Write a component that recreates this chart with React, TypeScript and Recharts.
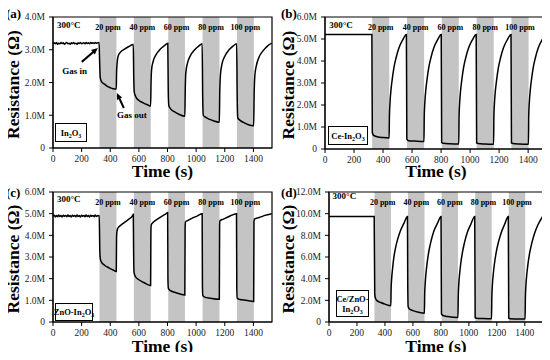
import React from "react";
import { ComposedChart, Line, XAxis, YAxis, ReferenceArea, ReferenceDot, ReferenceLine } from "recharts";

const SERIF = '"Liberation Serif", "Times New Roman", serif';

const timeTicks = [0, 200, 400, 600, 800, 1000, 1200, 1400];
const bandStarts = [325, 565, 805, 1045, 1285];
const bandEnds = [443, 683, 922, 1163, 1403];
const concentrations = ["20 ppm", "40 ppm", "60 ppm", "80 ppm", "100 ppm"];

const in2o3Ticks = [0, 1, 2, 3, 4];
const ceTicks = [0, 1, 2, 3, 4, 5, 6];
const znoTicks = [0, 1, 2, 3, 4, 5, 6];
const ceZnoTicks = [0, 2, 4, 6, 8, 10, 12];

// resistance in MΩ vs time in s
const in2o3Curve: [number, number][] = [
  [0, 3.17], [8, 3.21], [16, 3.18], [24, 3.22], [32, 3.17], [40, 3.2], [48, 3.18], [56, 3.22], [64, 3.19],
  [72, 3.21], [80, 3.17], [88, 3.2], [96, 3.22], [104, 3.18], [112, 3.2], [120, 3.17], [128, 3.21],
  [136, 3.19], [144, 3.22], [152, 3.18], [160, 3.2], [168, 3.17], [176, 3.21], [184, 3.19], [192, 3.22],
  [200, 3.18], [208, 3.2], [216, 3.21], [224, 3.18], [232, 3.22], [240, 3.19], [248, 3.21], [256, 3.18],
  [264, 3.22], [272, 3.2], [280, 3.21], [288, 3.19], [296, 3.22], [304, 3.2], [312, 3.21], [322, 3.22],
  [326, 2.6], [330, 2.15], [340, 2.02], [360, 1.95], [380, 1.88], [400, 1.84], [420, 1.81], [442, 1.8],
  [444, 2.3], [448, 2.6], [455, 2.8], [470, 2.92], [500, 3.02], [530, 3.1], [561, 3.16],
  [564, 2.2], [568, 1.7], [580, 1.55], [600, 1.45], [630, 1.38], [660, 1.32], [682, 1.28],
  [685, 2.0], [689, 2.4], [700, 2.65], [720, 2.85], [750, 3.02], [780, 3.13], [802, 3.2],
  [805, 1.8], [809, 1.3], [825, 1.18], [850, 1.1], [880, 1.03], [921, 0.97],
  [924, 1.8], [928, 2.3], [940, 2.6], [960, 2.82], [990, 3.0], [1020, 3.12], [1042, 3.18],
  [1046, 1.5], [1050, 1.0], [1065, 0.94], [1090, 0.88], [1120, 0.83], [1162, 0.79],
  [1165, 1.7], [1170, 2.25], [1180, 2.55], [1200, 2.8], [1230, 3.0], [1260, 3.12], [1283, 3.18],
  [1287, 1.5], [1291, 0.92], [1305, 0.85], [1330, 0.78], [1360, 0.72], [1402, 0.68],
  [1405, 1.6], [1410, 2.2], [1420, 2.5], [1440, 2.78], [1470, 2.98], [1500, 3.12], [1528, 3.2],
];

const ceCurve: [number, number][] = [
  [0, 5.2], [323, 5.2],
  [326, 0.75], [335, 0.62], [360, 0.56], [400, 0.52], [442, 0.5],
  [444, 1.5], [448, 2.1], [455, 2.7], [462, 3.1], [475, 3.7], [490, 4.15], [510, 4.6], [535, 4.95], [561, 5.2],
  [564, 0.45], [575, 0.38], [620, 0.36], [682, 0.34],
  [684, 1.5], [688, 2.1], [695, 2.7], [702, 3.1], [715, 3.7], [730, 4.15], [750, 4.6], [775, 4.95], [801, 5.2],
  [804, 0.3], [815, 0.26], [860, 0.24], [922, 0.23],
  [924, 1.5], [928, 2.1], [935, 2.7], [942, 3.1], [955, 3.7], [970, 4.15], [990, 4.6], [1015, 4.95], [1042, 5.2],
  [1045, 0.28], [1055, 0.25], [1100, 0.23], [1162, 0.22],
  [1164, 1.5], [1168, 2.1], [1175, 2.7], [1182, 3.1], [1195, 3.7], [1210, 4.15], [1230, 4.6], [1255, 4.95], [1282, 5.2],
  [1285, 0.28], [1295, 0.25], [1340, 0.23], [1402, 0.22],
  [1404, 1.5], [1408, 2.1], [1415, 2.7], [1422, 3.1], [1435, 3.7], [1450, 4.15], [1470, 4.6], [1495, 4.95], [1528, 5.2],
];

const znoCurve: [number, number][] = [
  [0, 4.88], [8, 4.93], [16, 4.85], [24, 4.92], [32, 4.86], [40, 4.94], [48, 4.87], [56, 4.91], [64, 4.85],
  [72, 4.93], [80, 4.88], [88, 4.92], [96, 4.86], [104, 4.94], [112, 4.87], [120, 4.91], [128, 4.85],
  [136, 4.93], [144, 4.88], [152, 4.92], [160, 4.86], [168, 4.94], [176, 4.87], [184, 4.91], [192, 4.85],
  [200, 4.93], [208, 4.88], [216, 4.92], [224, 4.86], [232, 4.94], [240, 4.87], [248, 4.91], [256, 4.85],
  [264, 4.93], [272, 4.88], [280, 4.92], [288, 4.86], [296, 4.94], [304, 4.87], [312, 4.91], [323, 4.9],
  [327, 3.3], [331, 2.9], [340, 2.75], [360, 2.62], [390, 2.5], [420, 2.4], [442, 2.33],
  [444, 3.9], [447, 4.2], [455, 4.35], [470, 4.45], [500, 4.6], [530, 4.75], [555, 4.9], [561, 4.97],
  [563, 3.4], [566, 2.3], [575, 2.1], [600, 1.95], [640, 1.8], [682, 1.68],
  [684, 4.2], [687, 4.5], [700, 4.6], [730, 4.75], [760, 4.88], [790, 5.0], [801, 5.05],
  [803, 2.0], [806, 1.55], [820, 1.45], [860, 1.35], [921, 1.25],
  [923, 4.4], [926, 4.62], [940, 4.68], [970, 4.78], [1010, 4.9], [1042, 5.0],
  [1044, 1.6], [1047, 1.22], [1060, 1.15], [1100, 1.1], [1162, 1.05],
  [1164, 4.5], [1167, 4.68], [1190, 4.75], [1230, 4.87], [1282, 5.0],
  [1284, 1.6], [1287, 1.1], [1300, 1.05], [1350, 1.0], [1402, 0.95],
  [1404, 4.6], [1407, 4.75], [1440, 4.82], [1480, 4.92], [1528, 5.0],
];

const ceZnoCurve: [number, number][] = [
  [0, 9.75], [323, 9.75],
  [327, 2.6], [332, 2.2], [345, 1.95], [370, 1.8], [400, 1.65], [442, 1.5],
  [444, 3.0], [448, 4.0], [455, 5.0], [462, 5.8], [475, 6.8], [490, 7.6], [510, 8.4], [535, 9.1], [561, 9.75],
  [563, 3.5], [566, 1.4], [575, 1.2], [600, 1.05], [640, 0.9], [682, 0.8],
  [684, 2.5], [688, 3.6], [695, 4.7], [702, 5.5], [715, 6.6], [730, 7.5], [750, 8.4], [775, 9.1], [801, 9.75],
  [804, 0.75], [815, 0.6], [850, 0.5], [922, 0.42],
  [924, 2.3], [928, 3.5], [935, 4.6], [942, 5.4], [955, 6.5], [970, 7.4], [990, 8.3], [1015, 9.05], [1042, 9.75],
  [1045, 0.4], [1055, 0.35], [1100, 0.32], [1162, 0.3],
  [1164, 2.2], [1168, 3.4], [1175, 4.5], [1182, 5.3], [1195, 6.4], [1210, 7.3], [1230, 8.2], [1255, 9.0], [1282, 9.75],
  [1285, 0.35], [1295, 0.3], [1340, 0.28], [1402, 0.27],
  [1404, 2.2], [1408, 3.4], [1415, 4.5], [1422, 5.3], [1435, 6.4], [1450, 7.3], [1470, 8.2], [1495, 9.0], [1528, 9.75],
];

const fmtM = (v: number) => (v === 0 ? "0" : `${v.toFixed(1)}M`);

const Arrow = (props: any) => {
  const { x1, y1, x2, y2 } = props;
  const ang = Math.atan2(y2 - y1, x2 - x1);
  const len = 7;
  const a = 0.42;
  const p1 = `${x2 - len * Math.cos(ang - a)},${y2 - len * Math.sin(ang - a)}`;
  const p2 = `${x2 - len * Math.cos(ang + a)},${y2 - len * Math.sin(ang + a)}`;
  return (
    <g>
      <line x1={x1} y1={y1} x2={x2 - 4 * Math.cos(ang)} y2={y2 - 4 * Math.sin(ang)} stroke="#000" strokeWidth={2} />
      <polygon points={`${x2},${y2} ${p1} ${p2}`} fill="#000" />
    </g>
  );
};

const yTitle = (props: any) => {
  const vb = props.viewBox || { x: 0, y: 0, width: 50, height: 130 };
  const cx = vb.x + 13;
  const cy = vb.y + vb.height / 2 + 2;
  return (
    <text
      x={cx}
      y={cy}
      transform={`rotate(-90 ${cx} ${cy})`}
      textAnchor="middle"
      dominantBaseline="central"
      fontFamily={SERIF}
      fontWeight={700}
      fontSize={17.5}
      fill="#000"
    >
      Resistance (Ω)
    </text>
  );
};

type PanelProps = {
  tag: string;
  curve: [number, number][];
  yTicks: number[];
  left: number;
  top: number;
  axisWidth: number;
  marginTop: number;
  marginRight: number;
  axisHeight: number;
  titleOffset: number;
  tempFrac: number;
  tagTop: number;
  box: { left: number; top: number; width: number; height: number; content: React.ReactNode };
  extras?: React.ReactNode;
};

function Panel(p: PanelProps) {
  const yMax = p.yTicks[p.yTicks.length - 1];
  const data = p.curve.map(([t, r]) => ({ t, r }));
  const bold = { fontFamily: SERIF, fontWeight: 700, fill: "#000" };
  return (
    <div style={{ position: "absolute", left: p.left, top: p.top, width: 275, height: 180 }}>
      <ComposedChart width={275} height={180} margin={{ top: p.marginTop, right: p.marginRight, bottom: 0, left: 0 }}>
        <XAxis
          dataKey="t"
          type="number"
          domain={[0, 1530]}
          ticks={timeTicks}
          height={p.axisHeight}
          axisLine={{ stroke: "#000" }}
          tickLine={{ stroke: "#000" }}
          tickSize={4}
          tickMargin={3}
          tick={{ fill: "#222", fontSize: 9.5, fontFamily: SERIF }}
          label={{ value: "Time (s)", position: "insideBottom", offset: p.titleOffset, style: { ...bold, fontSize: 17.5 } }}
        />
        <YAxis
          type="number"
          domain={[0, yMax]}
          ticks={p.yTicks}
          width={p.axisWidth}
          tickFormatter={fmtM}
          axisLine={{ stroke: "#000" }}
          tickLine={{ stroke: "#000" }}
          tickSize={4}
          tickMargin={4}
          tick={{ fill: "#222", fontSize: 9.5, fontFamily: SERIF }}
          label={{ content: yTitle }}
        />
        {bandStarts.map((s, i) => (
          <ReferenceArea
            key={s}
            x1={s}
            x2={bandEnds[i]}
            y1={0}
            y2={yMax}
            fill="#c4c4c4"
            fillOpacity={1}
            stroke="none"
            label={{ value: concentrations[i], position: "insideTop", offset: 7, style: { ...bold, fontSize: 8 } }}
          />
        ))}
        <Line data={data} dataKey="r" type="monotone" stroke="#000" strokeWidth={1.5} dot={false} isAnimationActive={false} />
        <ReferenceDot
          x={110}
          y={yMax * p.tempFrac}
          r={0}
          fill="none"
          stroke="none"
          label={{ value: "300°C", position: "center", style: { ...bold, fontSize: 9 } }}
        />
        {p.extras}
        <ReferenceArea x1={0} x2={1530} y1={0} y2={yMax} fill="none" stroke="#000" strokeWidth={1.2} />
      </ComposedChart>
      <div
        style={{
          position: "absolute",
          left: 6,
          top: p.tagTop,
          fontFamily: SERIF,
          fontWeight: 700,
          fontSize: 13,
          lineHeight: "13px",
          whiteSpace: "nowrap",
        }}
      >
        {p.tag}
      </div>
      <div
        style={{
          position: "absolute",
          left: p.box.left,
          top: p.box.top,
          width: p.box.width,
          height: p.box.height,
          boxSizing: "border-box",
          border: "1.5px solid #000",
          background: "#fff",
          fontFamily: SERIF,
          fontWeight: 700,
          fontSize: 8.5,
          lineHeight: "10px",
          whiteSpace: "nowrap",
          display: "flex",
          flexDirection: "column",
          alignItems: "center",
          justifyContent: "center",
          textAlign: "center",
        }}
      >
        {p.box.content}
      </div>
    </div>
  );
}

const Sub = ({ children }: { children: React.ReactNode }) => (
  <sub style={{ fontSize: 6, verticalAlign: "-2px", lineHeight: 0 }}>{children}</sub>
);

export default function App() {
  const gasText = { fontFamily: SERIF, fontWeight: 700, fontSize: 9, fill: "#000" };
  return (
    <div style={{ position: "relative", width: 550, height: 360, margin: -8, background: "#fff" }}>
      <Panel
        tag="(a)"
        curve={in2o3Curve}
        yTicks={in2o3Ticks}
        left={0}
        top={0}
        axisWidth={53}
        marginTop={17}
        marginRight={3}
        axisHeight={32}
        titleOffset={3}
        tempFrac={0.94}
        tagTop={7}
        box={{ left: 55, top: 123, width: 32, height: 19, content: <span>In<Sub>2</Sub>O<Sub>3</Sub></span> }}
        extras={
          <>
            <ReferenceLine segment={[{ x: 201, y: 2.63 }, { x: 313, y: 3.05 }]} shape={Arrow} />
            <ReferenceLine segment={[{ x: 495, y: 1.22 }, { x: 446, y: 1.68 }]} shape={Arrow} />
            <ReferenceDot x={152} y={2.35} r={0} fill="none" stroke="none" label={{ value: "Gas in", position: "center", style: gasText }} />
            <ReferenceDot x={551} y={1.0} r={0} fill="none" stroke="none" label={{ value: "Gas out", position: "center", style: gasText }} />
          </>
        }
      />
      <Panel
        tag="(b)"
        curve={ceCurve}
        yTicks={ceTicks}
        left={275}
        top={0}
        axisWidth={50}
        marginTop={17}
        marginRight={3}
        axisHeight={31}
        titleOffset={3}
        tempFrac={0.94}
        tagTop={7}
        box={{ left: 53, top: 126, width: 40, height: 19, content: <span>Ce-In<Sub>2</Sub>O<Sub>3</Sub></span> }}
      />
      <Panel
        tag="(c)"
        curve={znoCurve}
        yTicks={znoTicks}
        left={0}
        top={180}
        axisWidth={53}
        marginTop={12}
        marginRight={3}
        axisHeight={38}
        titleOffset={8}
        tempFrac={0.95}
        tagTop={6}
        box={{ left: 55, top: 123, width: 38, height: 18, content: <span>ZnO-In<Sub>2</Sub>O<Sub>3</Sub></span> }}
      />
      <Panel
        tag="(d)"
        curve={ceZnoCurve}
        yTicks={ceZnoTicks}
        left={275}
        top={180}
        axisWidth={54}
        marginTop={12}
        marginRight={7}
        axisHeight={38}
        titleOffset={8}
        tempFrac={0.97}
        tagTop={6}
        box={{
          left: 61,
          top: 110,
          width: 33,
          height: 27,
          content: (
            <>
              <span>Ce/ZnO-</span>
              <span>In<Sub>2</Sub>O<Sub>3</Sub></span>
            </>
          ),
        }}
      />
    </div>
  );
}
